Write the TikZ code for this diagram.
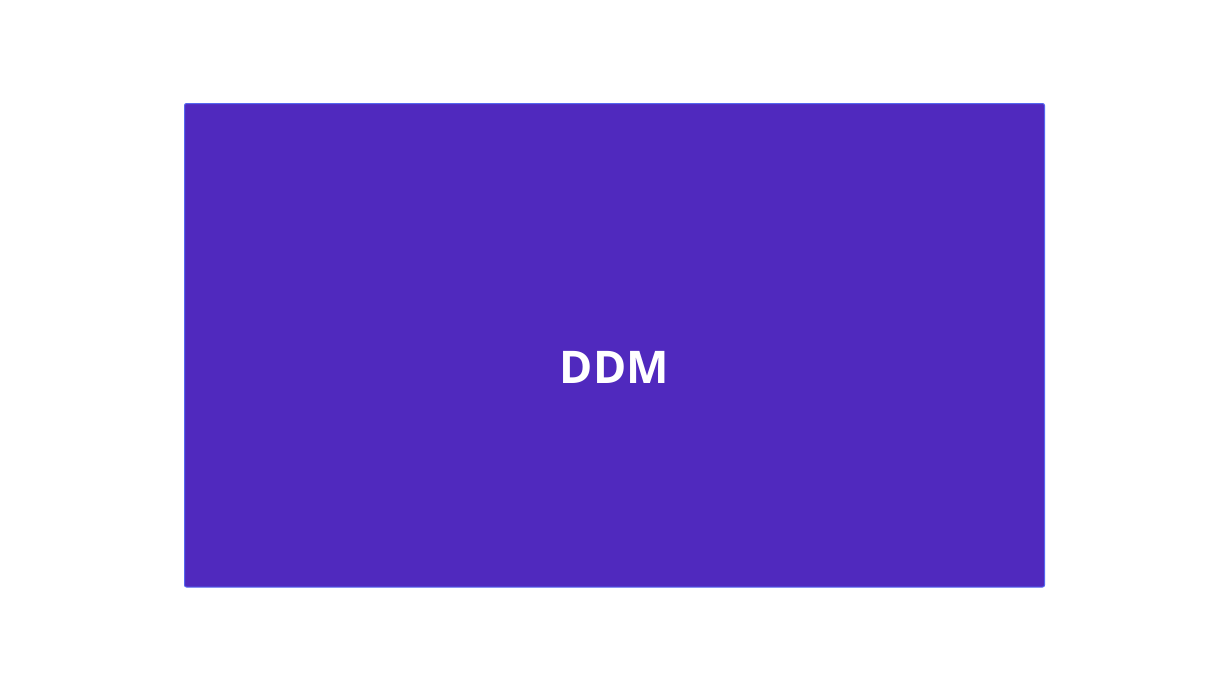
\documentclass[tikz,border=0pt]{standalone}
\usepackage{fontspec}
\setmainfont{Open Sans}
\definecolor{boxfill}{HTML}{5029BE}
\definecolor{boxedge}{HTML}{5566F0}
\begin{document}
\begin{tikzpicture}[x=1pt,y=-1pt,
  mainbox/.style={fill=boxfill,draw=boxedge,line width=1pt,rounded corners=2pt},
  label/.style={text=white,font=\fontsize{45}{54}\selectfont\bfseries}]
\useasboundingbox (0,0) rectangle (1230,691);
\fill[white] (0,0) rectangle (1230,691);
\draw[mainbox] (184.5,103.5) rectangle (1044.5,587);
\node[label] (ddm) at (614.5,367.5) {DDM};
\end{tikzpicture}
\end{document}
